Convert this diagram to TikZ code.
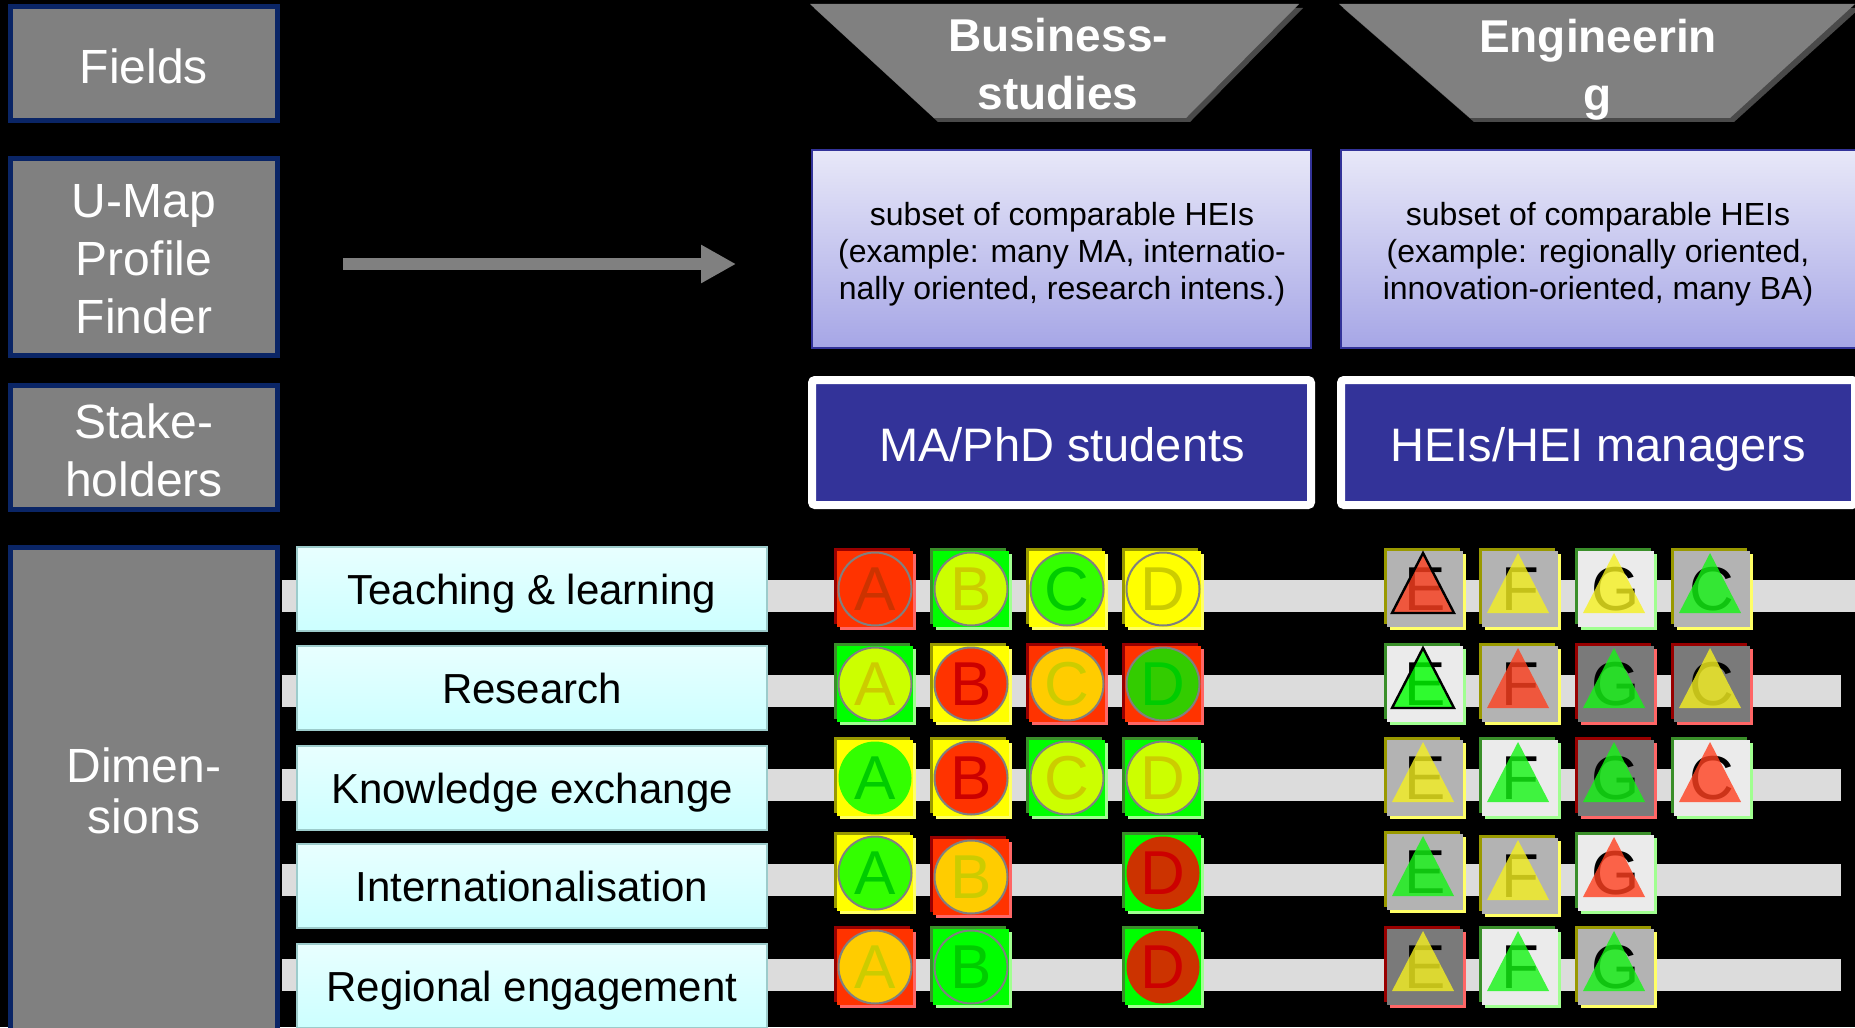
\documentclass[tikz,border=0pt]{standalone}
\usepackage{fontspec}
\setmainfont{Liberation Sans}
\usetikzlibrary{arrows.meta}
\definecolor{navyb}{HTML}{0A2566}
\definecolor{boxgray}{HTML}{808080}
\definecolor{barcol}{HTML}{DCDCDC}
\definecolor{cyTop}{HTML}{E8FFFF}
\definecolor{cyBot}{HTML}{CCFFFF}
\definecolor{cyEdge}{HTML}{9CCBCB}
\definecolor{lavTop}{HTML}{E8E8F8}
\definecolor{lavBot}{HTML}{A6A6E6}
\definecolor{lavEdge}{HTML}{333399}
\definecolor{deepblue}{HTML}{333399}
\definecolor{trapsh}{HTML}{4A4A4A}
\definecolor{sdR}{HTML}{990000}\definecolor{slR}{HTML}{FF6666}
\definecolor{sdG}{HTML}{3A8F2A}\definecolor{slG}{HTML}{A0FF90}
\definecolor{sdY}{HTML}{999900}\definecolor{slY}{HTML}{FFFF66}
\definecolor{sqR}{HTML}{FF3300}\definecolor{sqG}{HTML}{00FF00}\definecolor{sqY}{HTML}{FFFF00}
\definecolor{gL}{HTML}{EBEBEB}\definecolor{gM}{HTML}{B3B3B3}\definecolor{gD}{HTML}{7A7A7A}
\definecolor{cRed}{HTML}{FF3300}\definecolor{cRedD}{HTML}{CC3300}
\definecolor{cYG}{HTML}{CCFF00}\definecolor{cGrn}{HTML}{33FF00}\definecolor{cGrnD}{HTML}{33CC00}
\definecolor{cOra}{HTML}{FFCC00}\definecolor{cYel}{HTML}{FFFF00}\definecolor{cLime}{HTML}{00FF00}
\definecolor{lRedA}{HTML}{CC3300}\definecolor{lRed}{HTML}{CC0000}\definecolor{lYel}{HTML}{CCCC00}\definecolor{lGrn}{HTML}{00CC00}
\definecolor{tRed}{HTML}{FF4020}\definecolor{tYel}{HTML}{F5F020}\definecolor{tGrn}{HTML}{15F515}\definecolor{tLime}{HTML}{00FF00}

\newcommand\tilefont{\fontsize{31pt}{31pt}\selectfont}
\newcommand\tilebase[4]{%
  \fill[sd#3] ({#1-41},{#2-41}) rectangle ++(76,76);
  \fill[sl#3] ({#1-35},{#2-35}) rectangle ++(76,76);
  \fill[#4] ({#1-38},{#2-38}) rectangle ++(76,76);}
\newcommand\ctile[9]{\tilebase{#2}{#3}{#4}{#5}
  \node[circle,inner sep=0pt,minimum size=36.5pt,fill=#6,draw=#9,line width=1pt,text=#7,font=\tilefont] (#1) at (#2,#3) {#8};}
\newcommand\ttile[8]{\tilebase{#2}{#3}{#4}{#5}
  \node[inner sep=0pt,font=\tilefont,text=black] (#1) at (#2,#3) {#7};
  \path[fill=#6,fill opacity=.8,#8] ({#2-2},{#3-36}) -- ({#2+29},{#3+24}) -- ({#2-33},{#3+24}) -- cycle;}

\tikzset{
  leftbox/.style={draw=navyb, line width=2.5pt, fill=boxgray, minimum width=133.5pt, inner sep=0pt},
  lefttext/.style={text=white, align=center, font=\fontsize{24pt}{29pt}\selectfont, inner sep=0pt},
  dimbox/.style={draw=cyEdge, line width=0.6pt, top color=cyTop, bottom color=cyBot,
    minimum width=235pt, minimum height=42pt, font=\fontsize{21pt}{25pt}\selectfont, text=black,
    inner sep=0pt, text depth=0pt},
  lavbox/.style={draw=lavEdge, line width=0.8pt, top color=lavTop, bottom color=lavBot, minimum height=99pt, inner sep=0pt},
  lavtext/.style={align=center, text=black, font=\fontsize{16pt}{18.4pt}\selectfont, inner sep=0pt},
  stakebox/.style={draw=white, line width=4pt, fill=deepblue, rounded corners=1.5pt, minimum height=62.5pt, inner sep=0pt},
  staketext/.style={text=white, font=\fontsize{23.5pt}{28pt}\selectfont, inner sep=0pt, text depth=0pt},
  fieldtext/.style={text=white, align=center, font=\bfseries\fontsize{23pt}{29pt}\selectfont, inner sep=0pt}
}

\begin{document}
\begin{tikzpicture}[x=0.5pt,y=-0.5pt]
\useasboundingbox (0,0) rectangle (1855,1027);
\clip (0,0) rectangle (1855,1027);
\fill[black] (0,0) rectangle (1855,1027);

% bars
\fill[barcol] (282,580) rectangle (1855,612);
\foreach \yy in {691,785,880,975} {\fill[barcol] (282,\yy-16) rectangle (1841,\yy+16);}

% left boxes
\node[leftbox, minimum height=57pt] (fields) at (144,63.5) {};
\node[lefttext] (fieldst) at (144,66) {Fields};
\node[leftbox, minimum height=98.5pt] (umap) at (144,257) {};
\node[lefttext] (umapt) at (144,259.5) {U-Map\\Profile\\Finder};
\node[leftbox, minimum height=62pt] (stake) at (144,447.5) {};
\node[lefttext] (staket) at (144,450.5) {Stake-\\holders};
\node[leftbox, minimum height=246.25pt] (dims) at (144,793.75) {};
\node[lefttext, font=\fontsize{24pt}{25.5pt}\selectfont] (dimst) at (144,790.5) {Dimen-\\sions};

% dimension boxes
\node[dimbox] (d1) at (532,589) {Teaching \& learning};
\node[dimbox] (d2) at (532,688) {Research};
\node[dimbox] (d3) at (532,788) {Knowledge exchange};
\node[dimbox] (d4) at (532,886) {Internationalisation};
\node[dimbox] (d5) at (532,986) {Regional engagement};

% arrow
\coordinate (arrS) at (343,264);
\coordinate (arrE) at (736,264);
\draw[boxgray, line width=6pt, -{Triangle[length=17.5pt,width=18pt]}] (arrS) -- (arrE);

% field trapezoids
\fill[trapsh] (814,8) -- (1303,8) -- (1190,122) -- (938,122) -- cycle;
\fill[boxgray] (810,4) -- (1299,4) -- (1186,118) -- (934,118) -- cycle;
\node[fieldtext] (bus) at (1058,64) {Business-\\studies};
\fill[trapsh] (1343,8) -- (1860,8) -- (1734,122) -- (1474,122) -- cycle;
\fill[boxgray] (1339,4) -- (1855,4) -- (1730,118) -- (1470,118) -- cycle;
\node[fieldtext] (eng) at (1598,70) {Engineerin\\g};

% profile boxes
\node[lavbox, minimum width=249.5pt] (sub1) at (1061.5,249) {};
\node[lavtext] (sub1t) at (1062,254) {subset of comparable HEIs\\(example: many MA, internatio-\\nally oriented, research intens.)};
\node[lavbox, minimum width=257.5pt] (sub2) at (1598.5,249) {};
\node[lavtext] (sub2t) at (1598,254) {subset of comparable HEIs\\(example: regionally oriented,\\innovation-oriented, many BA)};

% stakeholder boxes
\node[stakebox, minimum width=249.5pt] (ma) at (1061.5,442.5) {};
\node[staketext] (mat) at (1062,444) {MA/PhD students};
\node[stakebox, minimum width=257pt] (hei) at (1598,442.5) {};
\node[staketext] (heit) at (1598,444) {HEIs/HEI managers};

% circle tiles
\ctile{a1}{875}{589}{R}{sqR}{cRed}{lRedA}{A}{boxgray}
\ctile{b1}{971}{589}{G}{sqG}{cYG}{lYel}{B}{boxgray}
\ctile{c1}{1067}{589}{Y}{sqY}{cGrn}{lGrn}{C}{boxgray}
\ctile{e1}{1163}{589}{Y}{sqY}{cYel}{lYel}{D}{boxgray}
\ctile{a2}{875}{684}{G}{sqG}{cYG}{lYel}{A}{boxgray}
\ctile{b2}{971}{684}{Y}{sqY}{cRed}{lRed}{B}{boxgray}
\ctile{c2}{1067}{684}{R}{sqR}{cOra}{lYel}{C}{boxgray}
\ctile{e2}{1163}{684}{R}{sqR}{cGrnD}{lGrn}{D}{boxgray}
\ctile{a3}{875}{778}{Y}{sqY}{cGrn}{lGrn}{A}{none}
\ctile{b3}{971}{778}{Y}{sqY}{cRed}{lRed}{B}{boxgray}
\ctile{c3}{1067}{778}{G}{sqG}{cYG}{lYel}{C}{boxgray}
\ctile{e3}{1163}{778}{G}{sqG}{cYG}{lYel}{D}{boxgray}
\ctile{a4}{875}{873}{Y}{sqY}{cGrn}{lGrn}{A}{boxgray}
\ctile{b4}{971}{877}{R}{sqR}{cOra}{lYel}{B}{boxgray}
\ctile{e4}{1163}{873}{G}{sqG}{cRedD}{lRed}{D}{none}
\ctile{a5}{875}{967}{R}{sqR}{cOra}{lYel}{A}{boxgray}
\ctile{b5}{971}{967}{G}{sqG}{cLime}{lGrn}{B}{boxgray}
\ctile{e5}{1163}{967}{G}{sqG}{cRedD}{lRed}{D}{none}

% triangle tiles
\ttile{te1}{1425}{589}{Y}{gM}{tRed}{E}{draw=black,line width=1.2pt}
\ttile{tf1}{1520}{589}{Y}{gM}{tYel}{F}{}
\ttile{tg1}{1616}{589}{G}{gL}{tYel}{G}{}
\ttile{tc1}{1712}{589}{Y}{gM}{tGrn}{C}{}
\ttile{te2}{1425}{684}{G}{gL}{tLime}{E}{draw=black,line width=1.2pt}
\ttile{tf2}{1520}{684}{Y}{gM}{tRed}{F}{}
\ttile{tg2}{1616}{684}{R}{gD}{tGrn}{G}{}
\ttile{tc2}{1712}{684}{R}{gD}{tYel}{C}{}
\ttile{te3}{1425}{778}{Y}{gM}{tYel}{E}{}
\ttile{tf3}{1520}{778}{G}{gL}{tGrn}{F}{}
\ttile{tg3}{1616}{778}{R}{gD}{tGrn}{G}{}
\ttile{tc3}{1712}{778}{G}{gL}{tRed}{C}{}
\ttile{te4}{1425}{872}{Y}{gM}{tGrn}{E}{}
\ttile{tf4}{1520}{876}{Y}{gM}{tYel}{F}{}
\ttile{tg4}{1616}{873}{G}{gL}{tRed}{G}{}
\ttile{te5}{1425}{967}{R}{gD}{tYel}{E}{}
\ttile{tf5}{1520}{967}{G}{gL}{tGrn}{F}{}
\ttile{tg5}{1616}{967}{Y}{gM}{tGrn}{G}{}
\end{tikzpicture}
\end{document}
